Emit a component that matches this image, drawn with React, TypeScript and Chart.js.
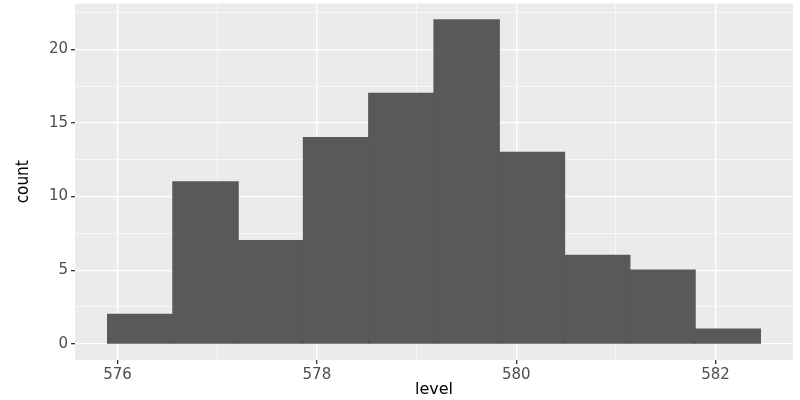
import { Chart, registerables } from "chart.js";
import { useEffect, useRef } from "react";

Chart.register(...registerables);

// histogram bins of "level" (bin width ~0.655)
const binStarts = [575.9, 576.555, 577.21, 577.865, 578.52, 579.175, 579.83, 580.485, 581.14, 581.795];
const binWidth = 0.655;
const counts = [2, 11, 7, 14, 17, 22, 13, 6, 5, 1];
const xTickLabels = [576, 578, 580, 582];
const yTickLabels = [0, 5, 10, 15, 20];

const panelBg = {
  id: "panelBg",
  beforeDraw(chart: Chart) {
    const { ctx, chartArea } = chart;
    ctx.save();
    ctx.fillStyle = "#EBEBEB";
    ctx.fillRect(chartArea.left, chartArea.top, chartArea.right - chartArea.left, chartArea.bottom - chartArea.top);
    ctx.restore();
  },
};

const isMajorX = (v: number) => xTickLabels.includes(v);
const isMajorY = (v: number) => yTickLabels.includes(v);

export default function App() {
  const canvasRef = useRef<HTMLCanvasElement | null>(null);

  useEffect(() => {
    if (!canvasRef.current) return;
    const chart = new Chart(canvasRef.current, {
      type: "bar",
      data: {
        datasets: [
          {
            data: binStarts.map((s, i) => ({ x: s + binWidth / 2, y: counts[i] })),
            backgroundColor: "#595959",
            borderWidth: 0,
            inflateAmount: 0.6,
            barPercentage: 1,
            categoryPercentage: 1,
          },
        ],
      },
      options: {
        animation: false,
        responsive: false,
        layout: { padding: { top: 3, right: 7, left: 0, bottom: 0 } },
        plugins: { legend: { display: false }, tooltip: { enabled: false } },
        scales: {
          x: {
            type: "linear",
            min: 575.573,
            max: 582.777,
            offset: false,
            afterBuildTicks: (scale) => {
              scale.ticks = [576, 577, 578, 579, 580, 581, 582].map((v) => ({ value: v }));
            },
            afterFit: (scale) => {
              scale.height = 40;
            },
            border: { display: false },
            grid: {
              offset: false,
              color: "#FFFFFF",
              lineWidth: (c) => (isMajorX(c.tick?.value) ? 1.3 : 0.6),
              tickColor: (c) => (isMajorX(c.tick?.value) ? "#333333" : "rgba(0,0,0,0)"),
              tickLength: 4,
            },
            ticks: {
              autoSkip: false,
              maxRotation: 0,
              padding: 2,
              color: "#4D4D4D",
              font: { family: "DejaVu Sans", size: 15 },
              callback: (v) => (isMajorX(Number(v)) ? String(v) : ""),
            },
            title: {
              display: true,
              text: "level",
              color: "#000000",
              font: { family: "DejaVu Sans", size: 16 },
              padding: { top: 0, bottom: 1 },
            },
          },
          y: {
            type: "linear",
            min: -1.1,
            max: 23.1,
            afterBuildTicks: (scale) => {
              scale.ticks = [0, 2.5, 5, 7.5, 10, 12.5, 15, 17.5, 20, 22.5].map((v) => ({ value: v }));
            },
            afterFit: (scale) => {
              scale.width = 75;
            },
            border: { display: false },
            grid: {
              color: "#FFFFFF",
              lineWidth: (c) => (isMajorY(c.tick?.value) ? 1.3 : 0.6),
              tickColor: (c) => (isMajorY(c.tick?.value) ? "#333333" : "rgba(0,0,0,0)"),
              tickLength: 4,
            },
            ticks: {
              autoSkip: false,
              padding: 3,
              color: "#4D4D4D",
              font: (c) => ({ family: "DejaVu Sans", size: isMajorY(c.tick?.value) ? 15 : 1 }),
              callback: (v) => (isMajorY(Number(v)) ? String(v) : ""),
            },
            title: {
              display: true,
              text: "count",
              color: "#000000",
              font: { family: "'Liberation Sans Narrow', 'DejaVu Sans Condensed', 'Liberation Sans'", size: 17 },
              padding: { top: 13, bottom: 0 },
            },
          },
        },
      },
      plugins: [panelBg],
    });
    return () => chart.destroy();
  }, []);

  return (
    <div style={{ position: "fixed", left: 0, top: 0, width: 800, height: 400, background: "#FFFFFF" }}>
      <canvas ref={canvasRef} width={800} height={400} />
    </div>
  );
}
